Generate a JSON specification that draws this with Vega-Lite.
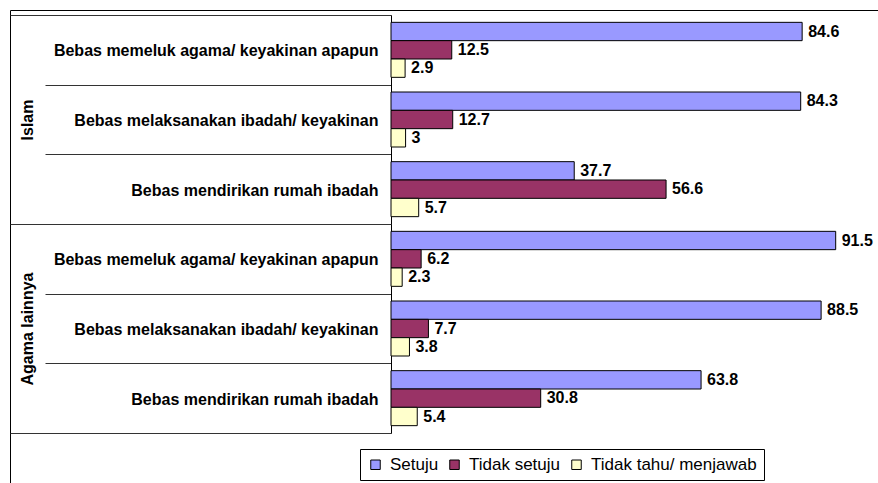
{
  "$schema": "https://vega.github.io/schema/vega-lite/v6.json",
  "width": 872,
  "height": 477,
  "autosize": {"type": "none"},
  "padding": {"left": 10, "top": 10, "right": -4, "bottom": -4},
  "background": "white",
  "config": {"view": {"stroke": "black", "strokeWidth": 1}, "font": "Liberation Sans"},
  "data": {
    "values": [
      {"group": "Islam", "item": "Islam|Bebas memeluk agama/ keyakinan apapun", "series": "Setuju", "value": 84.6},
      {"group": "Islam", "item": "Islam|Bebas memeluk agama/ keyakinan apapun", "series": "Tidak setuju", "value": 12.5},
      {"group": "Islam", "item": "Islam|Bebas memeluk agama/ keyakinan apapun", "series": "Tidak tahu/ menjawab", "value": 2.9},
      {"group": "Islam", "item": "Islam|Bebas melaksanakan ibadah/ keyakinan", "series": "Setuju", "value": 84.3},
      {"group": "Islam", "item": "Islam|Bebas melaksanakan ibadah/ keyakinan", "series": "Tidak setuju", "value": 12.7},
      {"group": "Islam", "item": "Islam|Bebas melaksanakan ibadah/ keyakinan", "series": "Tidak tahu/ menjawab", "value": 3},
      {"group": "Islam", "item": "Islam|Bebas mendirikan rumah ibadah", "series": "Setuju", "value": 37.7},
      {"group": "Islam", "item": "Islam|Bebas mendirikan rumah ibadah", "series": "Tidak setuju", "value": 56.6},
      {"group": "Islam", "item": "Islam|Bebas mendirikan rumah ibadah", "series": "Tidak tahu/ menjawab", "value": 5.7},
      {"group": "Agama lainnya", "item": "Agama lainnya|Bebas memeluk agama/ keyakinan apapun", "series": "Setuju", "value": 91.5},
      {"group": "Agama lainnya", "item": "Agama lainnya|Bebas memeluk agama/ keyakinan apapun", "series": "Tidak setuju", "value": 6.2},
      {"group": "Agama lainnya", "item": "Agama lainnya|Bebas memeluk agama/ keyakinan apapun", "series": "Tidak tahu/ menjawab", "value": 2.3},
      {"group": "Agama lainnya", "item": "Agama lainnya|Bebas melaksanakan ibadah/ keyakinan", "series": "Setuju", "value": 88.5},
      {"group": "Agama lainnya", "item": "Agama lainnya|Bebas melaksanakan ibadah/ keyakinan", "series": "Tidak setuju", "value": 7.7},
      {"group": "Agama lainnya", "item": "Agama lainnya|Bebas melaksanakan ibadah/ keyakinan", "series": "Tidak tahu/ menjawab", "value": 3.8},
      {"group": "Agama lainnya", "item": "Agama lainnya|Bebas mendirikan rumah ibadah", "series": "Setuju", "value": 63.8},
      {"group": "Agama lainnya", "item": "Agama lainnya|Bebas mendirikan rumah ibadah", "series": "Tidak setuju", "value": 30.8},
      {"group": "Agama lainnya", "item": "Agama lainnya|Bebas mendirikan rumah ibadah", "series": "Tidak tahu/ menjawab", "value": 5.4}
    ]
  },
  "layer": [
    {
      "encoding": {
        "y": {
          "field": "item", "type": "nominal", "sort": null,
          "scale": {"range": [5, 423], "paddingInner": 0, "paddingOuter": 0},
          "axis": {
            "orient": "left", "offset": -381, "title": null,
            "domain": true, "domainColor": "black", "domainWidth": 1,
            "ticks": true, "tickBand": "extent", "tickSize": 346, "tickColor": "#333", "tickWidth": 1,
            "labelExpr": "split(datum.value, '|')[1]",
            "labelPadding": -333, "labelFontSize": 16, "labelFontWeight": "bold", "labelColor": "black",
            "labelLimit": 0, "labelAlign": "right", "labelBaseline": "middle", "labelOffset": 1,
            "labelOverlap": false, "grid": false
          }
        },
        "yOffset": {
          "field": "series", "type": "nominal",
          "sort": ["Setuju", "Tidak setuju", "Tidak tahu/ menjawab"],
          "scale": {"paddingInner": 0, "paddingOuter": 0.4}
        },
        "x": {
          "field": "value", "type": "quantitative",
          "scale": {"domain": [0, 100], "range": [381, 867]},
          "axis": null
        }
      },
      "layer": [
        {
          "mark": {"type": "bar", "stroke": "black", "strokeWidth": 1},
          "encoding": {
            "color": {
              "field": "series", "type": "nominal",
              "sort": ["Setuju", "Tidak setuju", "Tidak tahu/ menjawab"],
              "scale": {"domain": ["Setuju", "Tidak setuju", "Tidak tahu/ menjawab"], "range": ["#9999FF", "#993366", "#FFFFCC"]},
              "legend": {
                "title": null, "orient": "none", "legendX": 350, "legendY": 439,
                "direction": "horizontal", "padding": 7,
                "strokeColor": "black", "fillColor": "white",
                "labelFontSize": 17, "labelColor": "black", "labelFont": "Liberation Sans", "labelLimit": 0,
                "symbolType": "square", "symbolSize": 90, "symbolStrokeColor": "black", "symbolStrokeWidth": 1,
                "symbolOpacity": 1, "labelOffset": 6, "columnPadding": 7
              }
            }
          }
        },
        {
          "mark": {"type": "text", "align": "left", "baseline": "middle", "dx": 6, "fontWeight": "bold", "fontSize": 16, "color": "black"},
          "encoding": {
            "text": {"field": "value", "type": "quantitative", "format": "~g"}
          }
        }
      ]
    },
    {
      "mark": {"type": "point", "opacity": 0},
      "encoding": {
        "y": {
          "field": "group", "type": "nominal", "sort": null,
          "scale": {"range": [5, 423], "paddingInner": 0, "paddingOuter": 0},
          "axis": {
            "orient": "left", "offset": -381, "title": null,
            "domain": false, "ticks": true, "tickBand": "extent", "tickSize": 381, "tickColor": "#333", "tickWidth": 1,
            "labelAngle": 270, "labelAlign": "center", "labelBaseline": "middle", "labelPadding": -17,
            "labelFontSize": 16, "labelFontWeight": "bold", "labelColor": "black", "labelLimit": 0,
            "labelOverlap": false, "grid": false
          }
        }
      }
    }
  ],
  "resolve": {"scale": {"y": "independent"}, "axis": {"y": "independent"}}
}
